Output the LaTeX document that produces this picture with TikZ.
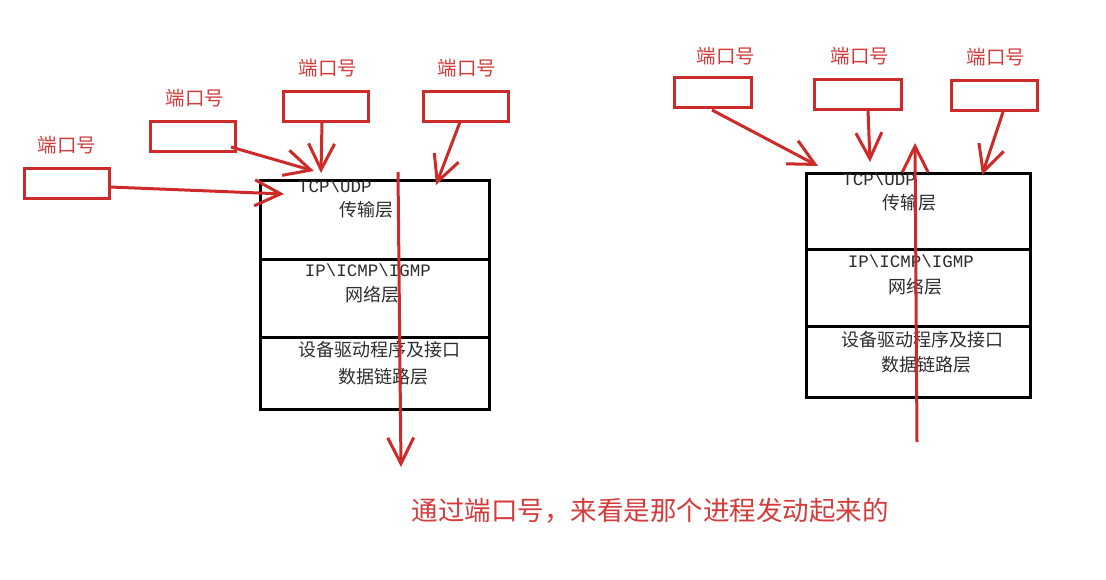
\documentclass[tikz,border=0pt]{standalone}
\usepackage{fontspec}
\newfontfamily\cjk{Noto Sans CJK SC}
\newfontfamily\mono{Liberation Mono}
\usetikzlibrary{arrows.meta}
\definecolor{rd}{RGB}{205,42,42}
\definecolor{rdtxt}{RGB}{212,60,60}
\definecolor{tx}{RGB}{45,45,45}
\tikzset{
  portbox/.style={draw=rd, line width=3pt, minimum width=85pt, minimum height=30pt, inner sep=0pt},
  portlbl/.style={text=rdtxt, font=\cjk\fontsize{19.5}{21}\selectfont, inner sep=0pt},
  layer/.style={draw=black, line width=3.5pt, inner sep=0pt, anchor=north west},
  cjktxt/.style={text=tx, font=\cjk\fontsize{18}{20}\selectfont, inner sep=0pt},
  monotxt/.style={text=tx, font=\mono\fontsize{17.5}{20}\selectfont, inner sep=0pt},
  redarrow/.style={draw=rd, line width=3pt, -{Straight Barb[length=26pt,width=26pt,line width=3pt]}},
  note/.style={text=rdtxt, font=\cjk\fontsize{26.5}{28}\selectfont, inner sep=0pt}
}
\begin{document}
\begin{tikzpicture}[x=1pt,y=-1pt]
\useasboundingbox (0,0) rectangle (1106,579);
% ---------- left stack ----------
\node[layer, minimum width=229pt, minimum height=79pt] (a1) at (258.5,178.5) {};
\node[layer, minimum width=229pt, minimum height=78pt] (a2) at (258.5,257.5) {};
\node[layer, minimum width=229pt, minimum height=72pt] (a3) at (258.5,335.5) {};
\node[monotxt] (at1) at (335,186) {TCP\textbackslash UDP};
\node[cjktxt] (at2) at (366,210) {传输层};
\node[monotxt] (at3) at (368,270) {IP\textbackslash ICMP\textbackslash IGMP};
\node[cjktxt] (at4) at (372,295) {网络层};
\node[cjktxt] (at5) at (379,350) {设备驱动程序及接口};
\node[cjktxt] (at6) at (383,377) {数据链路层};
% left port boxes
\node[portbox] (p1) at (66.5,183) {};
\node[portlbl] (pl1) at (67,145) {端口号};
\node[portbox] (p2) at (192.5,136.5) {};
\node[portlbl] (pl2) at (195,98) {端口号};
\node[portbox] (p3) at (326,106.5) {};
\node[portlbl] (pl3) at (328,68) {端口号};
\node[portbox] (p4) at (465.5,106.5) {};
\node[portlbl] (pl4) at (467,68) {端口号};
\coordinate (s1) at (110,187);
\coordinate (e1) at (284,194);
\coordinate (s2) at (231,147);
\coordinate (e2) at (314,171);
\coordinate (s3) at (322,122);
\coordinate (e3) at (321,173);
\coordinate (s4) at (460,122);
\coordinate (e4) at (436,185);
\draw[redarrow] (s1) -- (e1);
\draw[redarrow] (s2) -- (e2);
\draw[redarrow] (s3) -- (e3);
\draw[redarrow] (s4) -- (e4);
\coordinate (vd1) at (398,172);
\coordinate (vd2) at (401,467);
\draw[redarrow] (vd1) -- (vd2);
% ---------- right stack ----------
\node[layer, minimum width=224pt, minimum height=76pt] (b1) at (804.5,171.5) {};
\node[layer, minimum width=224pt, minimum height=77pt] (b2) at (804.5,247.5) {};
\node[layer, minimum width=224pt, minimum height=71pt] (b3) at (804.5,324.5) {};
\node[monotxt] (bt1) at (879,179) {TCP\textbackslash UDP};
\node[cjktxt] (bt2) at (909,203) {传输层};
\node[monotxt] (bt3) at (911,261) {IP\textbackslash ICMP\textbackslash IGMP};
\node[cjktxt] (bt4) at (915,287) {网络层};
\node[cjktxt] (bt5) at (922,340) {设备驱动程序及接口};
\node[cjktxt] (bt6) at (926,365) {数据链路层};
% right port boxes
\node[portbox, minimum width=77pt] (q1) at (712.5,92.5) {};
\node[portlbl] (ql1) at (726,56) {端口号};
\node[portbox, minimum width=87pt] (q2) at (858,94) {};
\node[portlbl] (ql2) at (860,56) {端口号};
\node[portbox, minimum width=86pt] (q3) at (994,95.5) {};
\node[portlbl] (ql3) at (996,57) {端口号};
\coordinate (t1) at (712,110);
\coordinate (f1) at (818,166);
\coordinate (t2) at (868,110);
\coordinate (f2) at (870,162);
\coordinate (t3) at (1003,112);
\coordinate (f3) at (982,175);
\draw[redarrow] (t1) -- (f1);
\draw[redarrow] (t2) -- (f2);
\draw[redarrow] (t3) -- (f3);
\coordinate (vu1) at (917,442);
\coordinate (vu2) at (915,143);
\draw[redarrow] (vu1) -- (vu2);
% ---------- note ----------
\node[note] (nt) at (650,511) {通过端口号，来看是那个进程发动起来的};
\end{tikzpicture}
\end{document}
